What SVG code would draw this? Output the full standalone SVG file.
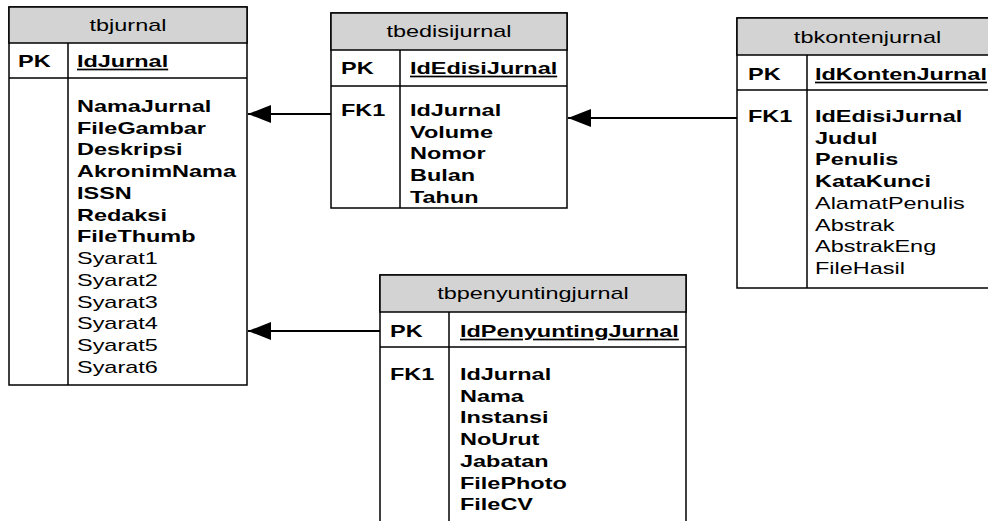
<svg xmlns="http://www.w3.org/2000/svg" width="988" height="521" viewBox="0 0 988 521">
<defs>
<style>
.box{fill:#fff;stroke:#000;stroke-width:1.5}
.hdr{fill:#d3d3d3;stroke:#000;stroke-width:1.5}
.ln{stroke:#000;stroke-width:1.5;fill:none}
text{font-family:"Liberation Sans",Arial,sans-serif;font-size:17px;fill:#000}
.t{text-anchor:middle}
.b{font-weight:bold}
.u{font-weight:bold;text-decoration:underline}
.conn{stroke:#000;stroke-width:2.2;fill:none}
</style>
<marker id="arr" viewBox="0 0 23 18" refX="23" refY="9" markerWidth="23" markerHeight="18" markerUnits="userSpaceOnUse" orient="auto">
<path d="M0,0 L23,9 L0,18 Z" fill="#000"/>
</marker>
</defs>
<rect width="988" height="521" fill="#fff"/>

<g id="connectors">
<line class="conn" x1="331" y1="114" x2="248" y2="114" marker-end="url(#arr)"/>
<line class="conn" x1="380" y1="331" x2="248" y2="331" marker-end="url(#arr)"/>
<line class="conn" x1="737" y1="118" x2="568" y2="118" marker-end="url(#arr)"/>
</g>

<g id="tbjurnal">
<rect class="box" x="9" y="7" width="238" height="378"/>
<rect class="hdr" x="9" y="7" width="238" height="36"/>
<line class="ln" x1="9" y1="78" x2="247" y2="78"/>
<line class="ln" x1="68" y1="43" x2="68" y2="385"/>
<g transform="translate(128,0) scale(1.38,1)"><text class="t" x="0" y="31">tbjurnal</text></g>
<g transform="translate(18,0) scale(1.38,1)"><text class="b" x="0" y="67">PK</text></g>
<g transform="translate(77,0) scale(1.38,1)">
<text class="u" x="0" y="67">IdJurnal</text>
<text class="b" x="0" y="112">NamaJurnal</text>
<text class="b" x="0" y="133.75">FileGambar</text>
<text class="b" x="0" y="155.5">Deskripsi</text>
<text class="b" x="0" y="177.25">AkronimNama</text>
<text class="b" x="0" y="199">ISSN</text>
<text class="b" x="0" y="220.75">Redaksi</text>
<text class="b" x="0" y="242.5">FileThumb</text>
<text x="0" y="264.25">Syarat1</text>
<text x="0" y="286">Syarat2</text>
<text x="0" y="307.75">Syarat3</text>
<text x="0" y="329.5">Syarat4</text>
<text x="0" y="351.25">Syarat5</text>
<text x="0" y="373">Syarat6</text>
</g>
</g>

<g id="tbedisijurnal">
<rect class="box" x="331" y="13" width="236" height="195"/>
<rect class="hdr" x="331" y="13" width="236" height="37"/>
<line class="ln" x1="331" y1="86" x2="567" y2="86"/>
<line class="ln" x1="400" y1="50" x2="400" y2="208"/>
<g transform="translate(449,0) scale(1.38,1)"><text class="t" x="0" y="37.5">tbedisijurnal</text></g>
<g transform="translate(341,0) scale(1.38,1)">
<text class="b" x="0" y="74">PK</text>
<text class="b" x="0" y="116">FK1</text>
</g>
<g transform="translate(410,0) scale(1.38,1)">
<text class="u" x="0" y="74">IdEdisiJurnal</text>
<text class="b" x="0" y="116">IdJurnal</text>
<text class="b" x="0" y="137.75">Volume</text>
<text class="b" x="0" y="159.5">Nomor</text>
<text class="b" x="0" y="181.25">Bulan</text>
<text class="b" x="0" y="203">Tahun</text>
</g>
</g>

<g id="tbkontenjurnal">
<rect class="box" x="737" y="18" width="261" height="270"/>
<rect class="hdr" x="737" y="18" width="261" height="37"/>
<line class="ln" x1="737" y1="90" x2="998" y2="90"/>
<line class="ln" x1="807" y1="55" x2="807" y2="288"/>
<g transform="translate(867.5,0) scale(1.38,1)"><text class="t" x="0" y="43">tbkontenjurnal</text></g>
<g transform="translate(748,0) scale(1.38,1)">
<text class="b" x="0" y="80">PK</text>
<text class="b" x="0" y="122">FK1</text>
</g>
<g transform="translate(815,0) scale(1.38,1)">
<text class="u" x="0" y="80">IdKontenJurnal</text>
<text class="b" x="0" y="122">IdEdisiJurnal</text>
<text class="b" x="0" y="143.75">Judul</text>
<text class="b" x="0" y="165.5">Penulis</text>
<text class="b" x="0" y="187.25">KataKunci</text>
<text x="0" y="209">AlamatPenulis</text>
<text x="0" y="230.75">Abstrak</text>
<text x="0" y="252.5">AbstrakEng</text>
<text x="0" y="274.25">FileHasil</text>
</g>
</g>

<g id="tbpenyuntingjurnal">
<rect class="box" x="380" y="275" width="306" height="260"/>
<rect class="hdr" x="380" y="275" width="306" height="37"/>
<line class="ln" x1="380" y1="347" x2="686" y2="347"/>
<line class="ln" x1="449" y1="312" x2="449" y2="535"/>
<g transform="translate(533,0) scale(1.38,1)"><text class="t" x="0" y="299.5">tbpenyuntingjurnal</text></g>
<g transform="translate(390,0) scale(1.38,1)">
<text class="b" x="0" y="337">PK</text>
<text class="b" x="0" y="380">FK1</text>
</g>
<g transform="translate(460,0) scale(1.38,1)">
<text class="u" x="0" y="337">IdPenyuntingJurnal</text>
<text class="b" x="0" y="380">IdJurnal</text>
<text class="b" x="0" y="401.75">Nama</text>
<text class="b" x="0" y="423.5">Instansi</text>
<text class="b" x="0" y="445.25">NoUrut</text>
<text class="b" x="0" y="467">Jabatan</text>
<text class="b" x="0" y="488.75">FilePhoto</text>
<text class="b" x="0" y="510.5">FileCV</text>
</g>
</g>
</svg>
